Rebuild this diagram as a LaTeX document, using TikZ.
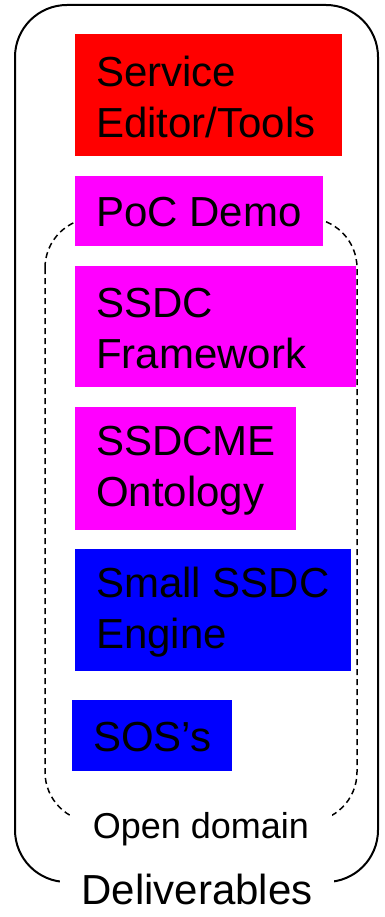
\documentclass[tikz,border=0pt]{standalone}
\usepackage{fontspec}
\setmainfont{Liberation Sans}
\begin{document}
\begin{tikzpicture}[x=1pt,y=-1pt,
  block/.style={draw=none, rectangle, anchor=north west, inner sep=0pt},
  redbox/.style={block, fill={rgb,255:red,255;green,0;blue,0}},
  pinkbox/.style={block, fill={rgb,255:red,255;green,0;blue,255}},
  bluebox/.style={block, fill={rgb,255:red,0;green,0;blue,255}},
  blocktext/.style={anchor=west, inner sep=0pt, align=left,
    font=\fontsize{42}{51}\selectfont},
  caption/.style={fill=white, anchor=base, inner ysep=8pt}]
\useasboundingbox (0,0) rectangle (384,917);

% open-domain group (dashed) and the deliverables frame
\draw[dash pattern=on 6pt off 4pt, line width=1.5pt, rounded corners=50]
  (45,218) rectangle (357,822);
\draw[line width=2pt, rounded corners=52] (15,5) rectangle (378,882);

% deliverable boxes
\node[redbox, minimum width=267pt, minimum height=122pt] (svc) at (75,34) {};
\node[pinkbox, minimum width=248pt, minimum height=70pt] (poc) at (75,176) {};
\node[pinkbox, minimum width=281pt, minimum height=121pt] (fw) at (75,266) {};
\node[pinkbox, minimum width=221pt, minimum height=123pt] (onto) at (75,407) {};
\node[bluebox, minimum width=276pt, minimum height=122pt] (eng) at (75,549) {};
\node[bluebox, minimum width=160pt, minimum height=71pt] (sos) at (72,700) {};

% their labels, set in from the left edge
\node[blocktext] (svct) at ([xshift=21pt,yshift=-2pt]svc.west) {Service\\Editor/Tools};
\node[blocktext] (poct) at ([xshift=21pt,yshift=-1pt]poc.west) {PoC Demo};
\node[blocktext] (fwt) at ([xshift=21pt,yshift=-2pt]fw.west) {SSDC\\Framework};
\node[blocktext] (ontot) at ([xshift=21pt,yshift=-2pt]onto.west) {SSDCME\\Ontology};
\node[blocktext] (engt) at ([xshift=21pt,yshift=-2pt]eng.west) {Small SSDC\\Engine};
\node[blocktext] (sost) at ([xshift=21pt,yshift=-1pt]sos.west) {SOS’s};

% group labels sitting on the frame lines
\node[caption, inner xsep=23pt, font=\fontsize{36}{40}\selectfont]
  (open) at (201,838) {Open domain};
\node[caption, inner xsep=21pt, font=\fontsize{42}{46}\selectfont]
  (deliv) at (197,904) {Deliverables};
\end{tikzpicture}
\end{document}
